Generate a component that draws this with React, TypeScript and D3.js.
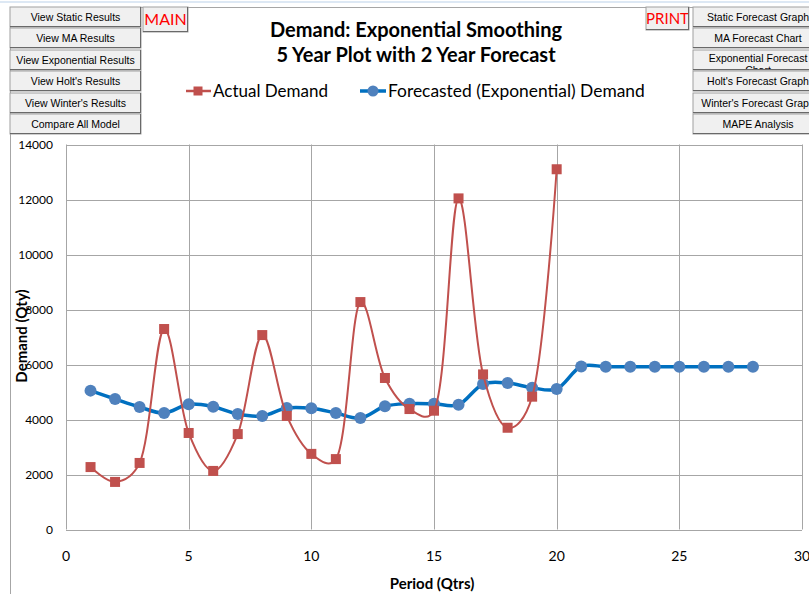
import React from "react";
import * as d3 from "d3";

const periods = Array.from({ length: 28 }, (_, i) => i + 1);
const actualDemand = [2270, 1730, 2420, 7290, 3510, 2130, 3470, 7070, 4130, 2750, 2560, 8270, 5510, 4380, 4320, 12040, 5640, 3700, 4830, 13100];
const forecastDemand = [5050, 4745, 4454, 4236, 4552, 4465, 4200, 4127, 4418, 4407, 4236, 4054, 4480, 4575, 4570, 4538, 5290, 5327, 5156, 5109, 5930, 5920, 5920, 5920, 5920, 5920, 5920, 5920];
const xTicks = [0, 5, 10, 15, 20, 25, 30];
const yTicks = [0, 2000, 4000, 6000, 8000, 10000, 12000, 14000];
const leftButtons = ["View Static Results", "View MA Results", "View Exponential Results", "View Holt's Results", "View Winter's Results", "Compare All Model"];
const rightButtons = [["Static Forecast Graph"], ["MA Forecast Chart"], ["Exponential Forecast", "Chart"], ["Holt's Forecast Graph"], ["Winter's Forecast Graph"], ["MAPE Analysis"]];
const buttonTops = [7, 28, 50, 71, 93, 114];

const RED = "#c0504d";
const BLUE = "#0070c0";
const BLUE_M = "#4f81bd";
const FONT = "Lato, 'Open Sans', sans-serif";
const BFONT = "'Liberation Sans', Arial, sans-serif";

function Button({ id, x, y, w, h, lines, fontSize = 10.5, color = "#000", font = BFONT }: any) {
  const ls: string[] = Array.isArray(lines) ? lines : [lines];
  const lh = fontSize * 1.15;
  const y0 = ls.length > 1 ? y + h / 2 + fontSize * 0.36 - 1.5 : y + h / 2 + fontSize * 0.36;
  return (
    <g>
      <clipPath id={id}>
        <rect x={x} y={y} width={w} height={h - 1} />
      </clipPath>
      <rect x={x} y={y} width={w} height={h} fill="#f0f0f0" stroke="#a0a0a0" strokeWidth={1} />
      <g clipPath={`url(#${id})`}>
        {ls.map((l, i) => (
          <text key={i} x={x + w / 2} y={y0 + i * lh} textAnchor="middle" fontSize={fontSize} fill={color} fontFamily={font}>{l}</text>
        ))}
      </g>
      <line x1={x} y1={y + h - 0.5} x2={x + w} y2={y + h - 0.5} stroke="#696969" />
      <line x1={x + w - 0.5} y1={y} x2={x + w - 0.5} y2={y + h} stroke="#696969" />
    </g>
  );
}

export default function App() {
  const W = 809, H = 594;
  const x = d3.scaleLinear().domain([0, 30]).range([66, 802]);
  const y = d3.scaleLinear().domain([0, 14000]).range([529.5, 144.5]);
  const line = d3.line<number>().curve(d3.curveCatmullRom.alpha(0.3));
  const actualPath = line(actualDemand.map((v, i) => [x(periods[i]), y(v)]) as any);
  const forecastPath = line(forecastDemand.map((v, i) => [x(periods[i]), y(v)]) as any);

  return (
    <svg width={W} height={H} style={{ position: "absolute", left: 0, top: 0, background: "#fff" }}>
      <rect x={0} y={0} width={W} height={H} fill="#fff" />
      <line x1={0} y1={2} x2={W} y2={2} stroke="#dde8f4" strokeWidth={2} />
      {/* chart border */}
      <rect x={10.5} y={7.5} width={W} height={H} fill="#fff" stroke="#a6a6a6" />
      {/* grid */}
      {yTicks.map(t => (
        <line key={"gy" + t} x1={x(0)} x2={x(30)} y1={Math.round(y(t)) + 0.5} y2={Math.round(y(t)) + 0.5} stroke="#a6a6a6" strokeWidth={1} />
      ))}
      {xTicks.map(t => (
        <line key={"gx" + t} x1={Math.round(x(t)) + 0.5} x2={Math.round(x(t)) + 0.5} y1={y(14000)} y2={y(0)} stroke="#a6a6a6" strokeWidth={1} />
      ))}
      {/* tick labels */}
      {yTicks.map(t => (
        <text key={"ty" + t} x={53} y={y(t) + 4} textAnchor="end" fontSize={12} fontFamily={FONT} fill="#000">{t}</text>
      ))}
      {xTicks.map(t => (
        <text key={"tx" + t} x={x(t)} y={561} textAnchor="middle" fontSize={14} fontFamily={FONT} fill="#000">{t}</text>
      ))}
      <text x={432} y={589} textAnchor="middle" fontSize={15} fontWeight="bold" fontFamily={FONT}>Period (Qtrs)</text>
      <text transform={`translate(27,336) rotate(-90)`} textAnchor="middle" fontSize={15} fontWeight="bold" fontFamily={FONT}>Demand (Qty)</text>
      {/* series */}
      <path d={forecastPath || ""} fill="none" stroke={BLUE} strokeWidth={3.5} />
      {forecastDemand.map((v, i) => (
        <circle key={"fc" + i} cx={x(periods[i])} cy={y(v)} r={6} fill={BLUE_M} />
      ))}
      <path d={actualPath || ""} fill="none" stroke={RED} strokeWidth={2} />
      {actualDemand.map((v, i) => (
        <rect key={"ac" + i} x={x(periods[i]) - 5} y={y(v) - 5} width={10} height={10} fill={RED} />
      ))}
      {/* title */}
      <text x={416} y={37} textAnchor="middle" fontSize={20} fontWeight="bold" fontFamily={FONT}>Demand: Exponential Smoothing</text>
      <text x={416} y={62} textAnchor="middle" fontSize={20} fontWeight="bold" fontFamily={FONT}>5 Year Plot with 2 Year Forecast</text>
      {/* legend */}
      <line x1={186} x2={211} y1={91} y2={91} stroke={RED} strokeWidth={2.5} />
      <rect x={193.5} y={86.5} width={9} height={9} fill={RED} />
      <text x={213} y={97} fontSize={17} fontFamily={FONT}>Actual Demand</text>
      <line x1={360} x2={386} y1={91} y2={91} stroke={BLUE} strokeWidth={3.5} />
      <circle cx={373} cy={91} r={5.5} fill={BLUE_M} />
      <text x={388} y={97} fontSize={17.4} fontFamily={FONT}>Forecasted (Exponential) Demand</text>
      {/* buttons */}
      {leftButtons.map((b, i) => (
        <Button key={"lb" + i} id={"lb" + i} x={10} y={buttonTops[i]} w={131} h={20} lines={b} />
      ))}
      {rightButtons.map((b, i) => (
        <Button key={"rb" + i} id={"rb" + i} x={693} y={buttonTops[i]} w={130} h={20} lines={b} />
      ))}
      <Button id="mainb" x={143} y={7} w={45} h={25} lines="MAIN" fontSize={16} color="#ff0000" font={FONT} />
      <Button id="printb" x={646} y={7} w={43} h={23} lines="PRINT" fontSize={15} color="#ff0000" font={FONT} />
    </svg>
  );
}
